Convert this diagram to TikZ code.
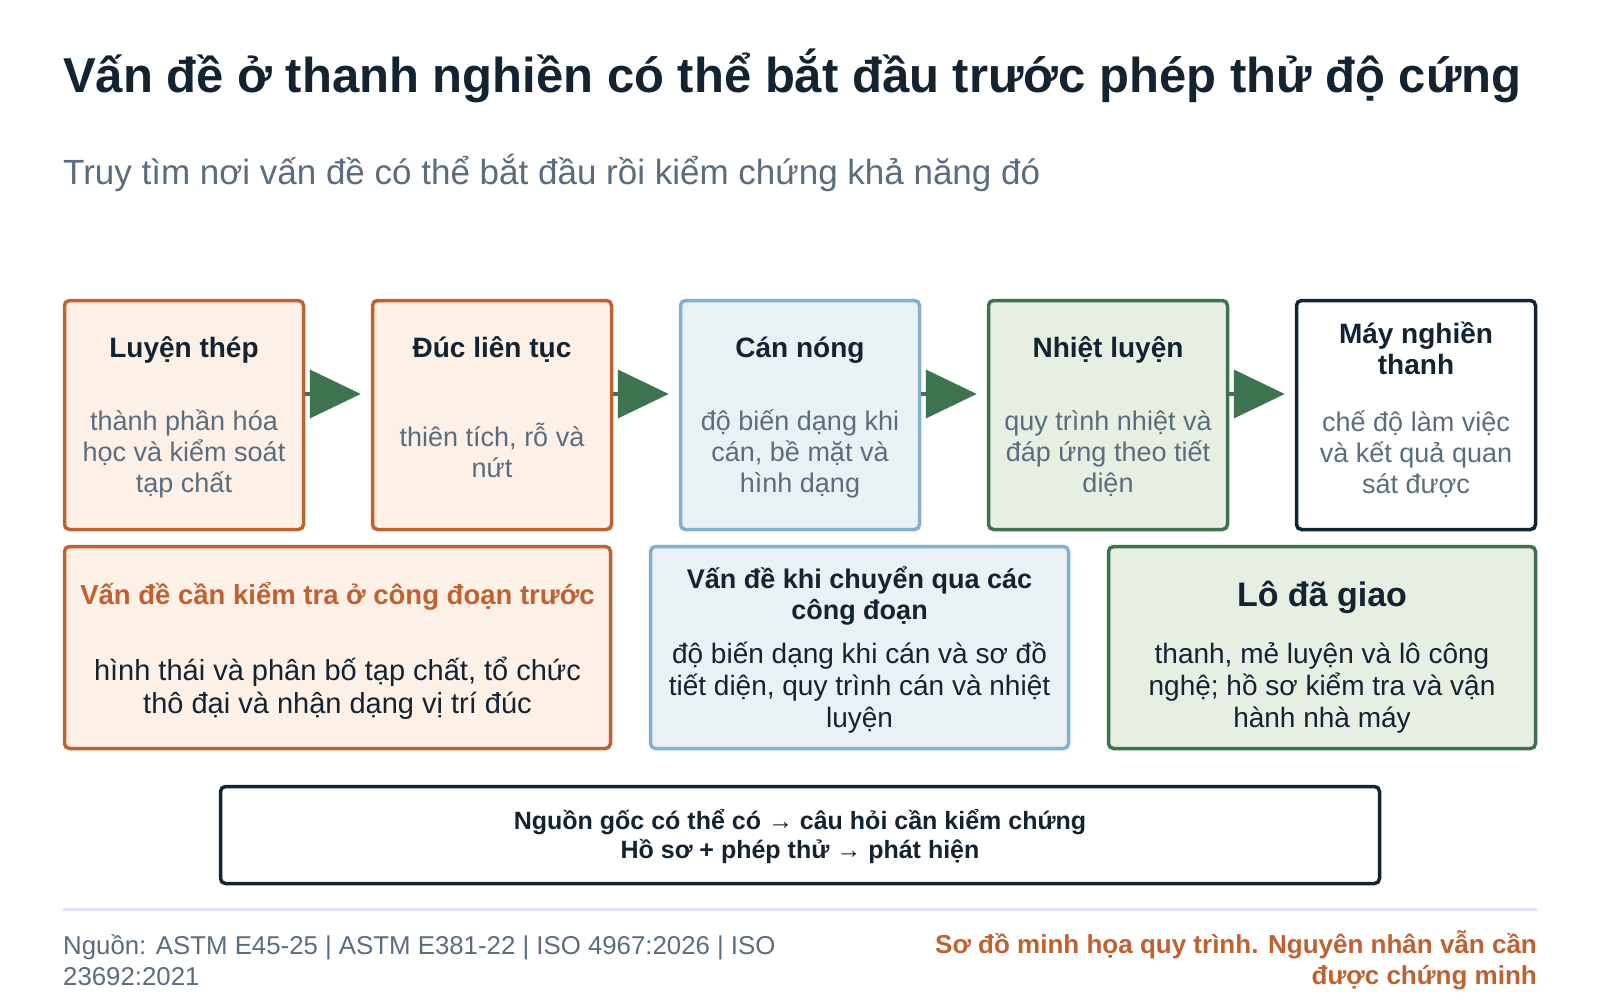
\documentclass[tikz,border=0pt]{standalone}
\usepackage{fontspec}
\setmainfont{Liberation Sans}
\usetikzlibrary{arrows.meta,calc}
\definecolor{ink}{HTML}{132331}
\definecolor{muted}{HTML}{5A6D7F}
\definecolor{rust}{HTML}{BF6130}
\definecolor{rustfill}{HTML}{FDF0E6}
\definecolor{skyline}{HTML}{7FB1D0}
\definecolor{skyfill}{HTML}{EAF1F5}
\definecolor{leaf}{HTML}{3E7350}
\definecolor{leaffill}{HTML}{E6EFE2}
\definecolor{rule}{HTML}{DCE3EA}
\tikzset{
  stagebox/.style={draw, line width=3.5pt, rounded corners=5pt, minimum width=239pt, minimum height=229pt, inner sep=0pt},
  lowbox/.style={draw, line width=3.5pt, rounded corners=5pt, minimum height=202pt, inner sep=0pt},
  stagetitle/.style={font=\fontsize{28}{31}\selectfont\bfseries, text=ink, align=center, inner sep=0pt},
  stagedesc/.style={font=\fontsize{27}{31}\selectfont, text=muted, align=center, inner sep=0pt},
  lowtitle/.style={font=\fontsize{27}{31}\selectfont\bfseries, text=ink, align=center, inner sep=0pt},
  lowbody/.style={font=\fontsize{28}{32}\selectfont, text=ink, align=center, inner sep=0pt},
  flow/.style={draw=leaf, line width=4pt, -{Triangle[width=48pt,length=51pt]}},
}
\begin{document}
\begin{tikzpicture}[x=1pt,y=-1pt]
\useasboundingbox[fill=white] (0,0) rectangle (1600,1000);

% title
\node[anchor=base west, inner sep=0pt, text=ink, font=\fontsize{49}{55}\selectfont\bfseries] (title) at (63,93) {Vấn đề ở thanh nghiền có thể bắt đầu trước phép thử độ cứng};
\node[anchor=base west, inner sep=0pt, text=muted, font=\fontsize{35}{40}\selectfont] (subtitle) at (63,185) {Truy tìm nơi vấn đề có thể bắt đầu rồi kiểm chứng khả năng đó};

% stage boxes
\node[stagebox, draw=rust, fill=rustfill] (b1) at (184,415) {};
\node[stagebox, draw=rust, fill=rustfill] (b2) at (492,415) {};
\node[stagebox, draw=skyline, fill=skyfill] (b3) at (800,415) {};
\node[stagebox, draw=leaf, fill=leaffill] (b4) at (1108,415) {};
\node[stagebox, draw=ink, fill=white] (b5) at (1416,415) {};

\node[stagetitle] (b1t) at (184,350) {Luyện thép};
\node[stagedesc] (b1d) at (184,454) {thành phần hóa\\học và kiểm soát\\tạp chất};
\node[stagetitle] (b2t) at (492,350) {Đúc liên tục};
\node[stagedesc] (b2d) at (492,450.5) {thiên tích, rỗ và\\nứt};
\node[stagetitle] (b3t) at (800,350) {Cán nóng};
\node[stagedesc] (b3d) at (800,454) {độ biến dạng khi\\cán, bề mặt và\\hình dạng};
\node[stagetitle] (b4t) at (1108,350) {Nhiệt luyện};
\node[stagedesc] (b4d) at (1108,454) {quy trình nhiệt và\\đáp ứng theo tiết\\diện};
\node[stagetitle] (b5t) at (1416,348.5) {Máy nghiền\\thanh};
\node[stagedesc] (b5d) at (1416,454) {chế độ làm việc\\và kết quả quan\\sát được};

% arrows
\draw[flow] (b1.east |- 0,394) -- ($(b2.west |- 0,394)+(-10,0)$);
\draw[flow] (b2.east |- 0,394) -- ($(b3.west |- 0,394)+(-10,0)$);
\draw[flow] (b3.east |- 0,394) -- ($(b4.west |- 0,394)+(-10,0)$);
\draw[flow] (b4.east |- 0,394) -- ($(b5.west |- 0,394)+(-10,0)$);

% lower boxes
\node[lowbox, draw=rust, fill=rustfill, minimum width=546pt] (la) at (337.5,647.5) {};
\node[lowbox, draw=skyline, fill=skyfill, minimum width=418pt] (lb) at (859.5,647.5) {};
\node[lowbox, draw=leaf, fill=leaffill, minimum width=427pt] (lc) at (1322,647.5) {};

\node[lowtitle, text=rust, font=\fontsize{27.5}{31}\selectfont\bfseries] (lat) at (337.5,596) {Vấn đề cần kiểm tra ở công đoạn trước};
\node[lowbody, font=\fontsize{29}{33}\selectfont] (lad) at (337.5,688) {hình thái và phân bố tạp chất, tổ chức\\thô đại và nhận dạng vị trí đúc};
\node[lowtitle] (lbt) at (859.5,595.5) {Vấn đề khi chuyển qua các\\công đoạn};
\node[lowbody] (lbd) at (859.5,687.5) {độ biến dạng khi cán và sơ đồ\\tiết diện, quy trình cán và nhiệt\\luyện};
\node[lowtitle, font=\fontsize{34}{38}\selectfont\bfseries] (lct) at (1322,597) {Lô đã giao};
\node[lowbody] (lcd) at (1322,687.5) {thanh, mẻ luyện và lô công\\nghệ; hồ sơ kiểm tra và vận\\hành nhà máy};

% summary box
\node[draw=ink, fill=white, line width=3.5pt, rounded corners=5pt, minimum width=1159pt, minimum height=97pt, inner sep=0pt] (sum) at (800,835) {};
\node[font=\fontsize{25}{29}\selectfont\bfseries, text=ink, align=center, inner sep=0pt] (sumt) at (800,836.5) {Nguồn gốc có thể có → câu hỏi cần kiểm chứng\\Hồ sơ + phép thử → phát hiện};

% footer
\coordinate (rl) at (63,909);
\coordinate (rr) at (1537,909);
\draw[rule, line width=3pt] (rl) -- (rr);
\node[anchor=north west, inner sep=0pt, text=muted, align=left, font=\fontsize{25.8}{31}\selectfont] (src) at (63,934) {Nguồn: ASTM E45-25 | ASTM E381-22 | ISO 4967:2026 | ISO\\23692:2021};
\node[anchor=north east, inner sep=0pt, text=rust, align=right, font=\fontsize{26}{31}\selectfont\bfseries] (note) at (1537,930) {Sơ đồ minh họa quy trình. Nguyên nhân vẫn cần\\được chứng minh};
\end{tikzpicture}
\end{document}
